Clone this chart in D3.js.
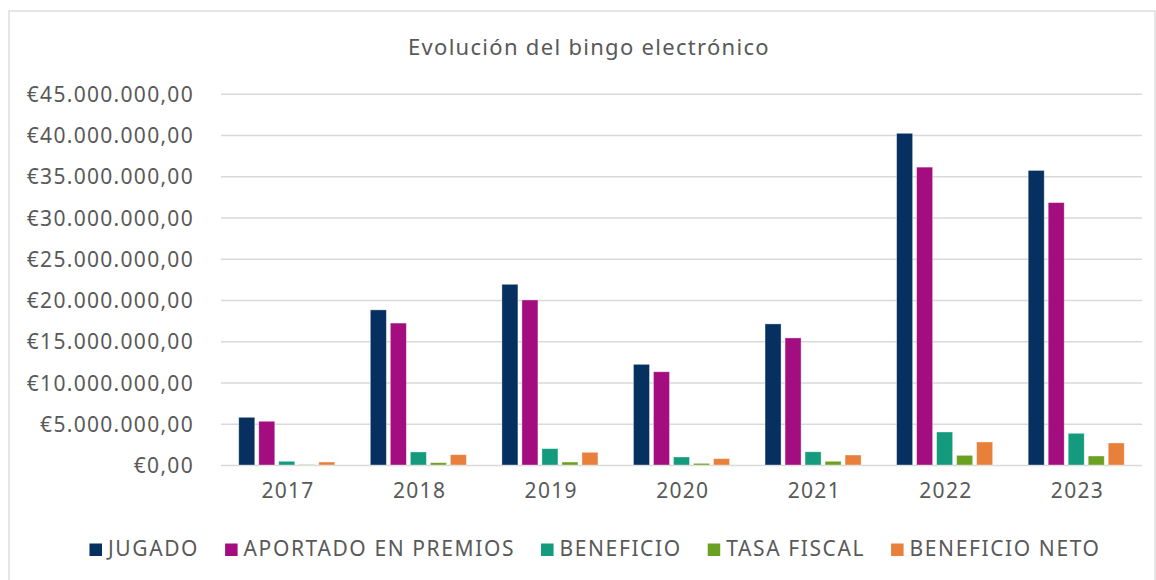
<!DOCTYPE html>
<html>
<head>
<meta charset="utf-8">
<script src="https://cdn.jsdelivr.net/npm/d3@7"></script>
<style>
  body { margin: 0; background: #fff; }
  svg text { font-family: "Noto Sans", sans-serif; fill: #595959; letter-spacing: 1.3px; }
</style>
</head>
<body>
<div id="chart"></div>
<script>
// data (euros)
const years = ["2017", "2018", "2019", "2020", "2021", "2022", "2023"];
const seriesNames = ["JUGADO", "APORTADO EN PREMIOS", "BENEFICIO", "TASA FISCAL", "BENEFICIO NETO"];
const jugado = [5780000, 18800000, 21900000, 12200000, 17100000, 40200000, 35700000];
const aportado = [5300000, 17200000, 20000000, 11300000, 15400000, 36100000, 31800000];
const beneficio = [450000, 1580000, 1980000, 970000, 1600000, 4000000, 3840000];
const tasaFiscal = [50000, 280000, 360000, 200000, 450000, 1170000, 1090000];
const beneficioNeto = [360000, 1250000, 1540000, 770000, 1210000, 2790000, 2670000];
const yTicks = [0, 5e6, 10e6, 15e6, 20e6, 25e6, 30e6, 35e6, 40e6, 45e6];
const colors = ["#05305f", "#a30d80", "#149a7d", "#6aa121", "#e8803b"];

const allSeries = [jugado, aportado, beneficio, tasaFiscal, beneficioNeto];

const W = 1156, H = 580;
const plot = {left: 221, right: 1142, top: 93.7, bottom: 465};

const svg = d3.select("#chart").append("svg")
    .attr("width", W)
    .attr("height", H);

// chart border
svg.append("rect")
    .attr("x", 9).attr("y", 11)
    .attr("width", 1146).attr("height", 600)
    .attr("fill", "none")
    .attr("stroke", "#d9d9d9")
    .attr("stroke-width", 1.3);

const es = d3.formatLocale({decimal: ",", thousands: ".", grouping: [3], currency: ["€", ""]});
const fmt = es.format("$,.2f");

const x = d3.scaleBand().domain(years)
    .range([plot.left, plot.right])
    .paddingInner(0.27)
    .paddingOuter(0.135);

const xs = d3.scaleBand().domain(seriesNames)
    .range([0, x.bandwidth()])
    .paddingInner(0.2);

const y = d3.scaleLinear().domain([0, 45e6]).range([plot.bottom, plot.top]);

// gridlines + y labels
const yAxis = svg.append("g")
    .attr("transform", `translate(${plot.left},0)`)
    .call(d3.axisLeft(y).tickValues(yTicks).tickFormat(fmt)
        .tickSize(-(plot.right - plot.left)).tickPadding(27));
yAxis.select(".domain").remove();
yAxis.selectAll(".tick line").attr("stroke", "#d9d9d9").attr("stroke-width", 1.4);
yAxis.selectAll(".tick text").style("font-size", "21px").attr("fill", "#595959").attr("dy", "0.36em");

// bars
const groups = svg.append("g").selectAll("g")
    .data(years)
    .join("g")
    .attr("transform", d => `translate(${x(d)},0)`);

groups.selectAll("rect")
    .data((d, i) => seriesNames.map((s, k) => ({s, k, v: allSeries[k][i]})))
    .join("rect")
    .attr("x", d => xs(d.s))
    .attr("y", d => y(d.v))
    .attr("width", xs.bandwidth())
    .attr("height", d => y(0) - y(d.v))
    .attr("fill", d => colors[d.k])
    .attr("stroke", "#ffffff")
    .attr("stroke-opacity", 0.45)
    .attr("stroke-width", 0.8);

// x labels
const xAxis = svg.append("g")
    .attr("transform", `translate(0,${plot.bottom})`)
    .call(d3.axisBottom(x).tickSize(0).tickPadding(18));
xAxis.select(".domain").remove();
xAxis.selectAll(".tick text").style("font-size", "21px").attr("fill", "#595959")
    .attr("dx", "0.06em");

// title
svg.append("text")
    .attr("x", 589).attr("y", 55)
    .attr("text-anchor", "middle")
    .style("font-size", "22px")
    .text("Evolución del bingo electrónico");

// legend
const legend = svg.append("g");
let lx = 0;
seriesNames.forEach((name, k) => {
    const item = legend.append("g").attr("transform", `translate(${lx},0)`);
    item.append("rect")
        .attr("x", 0).attr("y", -12.5)
        .attr("width", 12.5).attr("height", 12.5)
        .attr("fill", colors[k]);
    const t = item.append("text")
        .attr("x", 18.5).attr("y", 0)
        .style("font-size", "21px")
        .style("letter-spacing", "1.6px")
        .text(name);
    lx += 18.5 + t.node().getComputedTextLength() + 26;
});
const legendWidth = lx - 26;
legend.attr("transform", `translate(${595 - legendWidth / 2},556)`);
</script>
</body>
</html>
